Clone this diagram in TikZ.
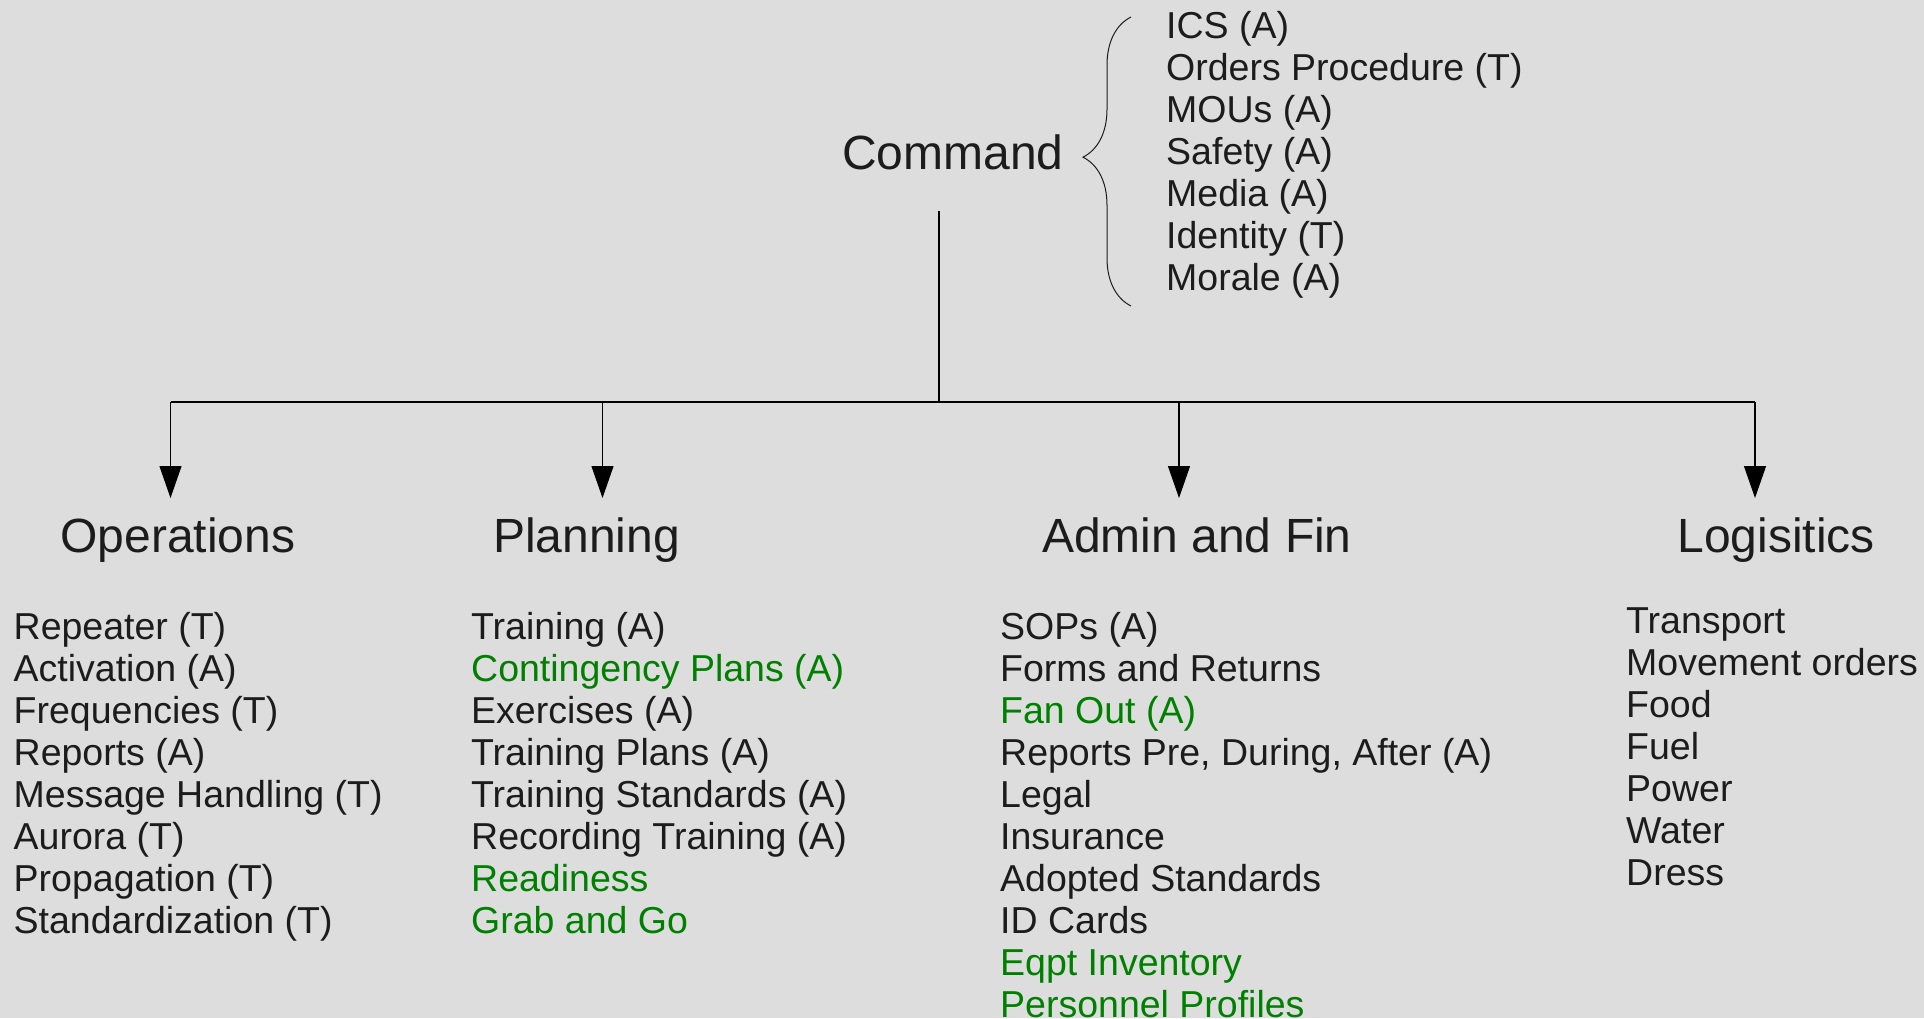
\documentclass[tikz,border=0pt]{standalone}
\usepackage{fontspec}
\setmainfont{Liberation Sans}
\usetikzlibrary{arrows.meta,decorations.pathreplacing}
\definecolor{bg}{HTML}{DDDDDD}
\definecolor{ink}{HTML}{1C1C1C}
\definecolor{grn}{HTML}{008000}
\newcommand\greenit{\color{grn}}
\begin{document}
\begin{tikzpicture}[x=1pt,y=-1pt,
  head/.style={anchor=base,inner sep=0pt,text=ink,font=\fontsize{48}{56}\selectfont},
  item/.style={anchor=base west,inner sep=0pt,text=ink,font=\fontsize{37.5}{42}\selectfont},
  wire/.style={draw=black,line width=1.1pt},
  arr/.style={wire,-{Triangle[length=32pt,width=22pt]}},
  bracestyle/.style={draw=ink,line width=1pt,decorate,decoration={brace,amplitude=48pt,aspect=0.515}}]
\fill[bg] (0,0) rectangle (1924,1018);
\useasboundingbox (0,0) rectangle (1924,1018);

% headings
\node[head] (cmd) at (953,169) {Command};
\node[head] (ops) at (178,552) {Operations};
\node[head] (pln) at (586.5,552) {Planning};
\node[head] (adm) at (1197,552) {Admin and Fin};
\node[head] (log) at (1776,552) {Logisitics};

% connector points
\coordinate (cfoot) at (939,211);
\coordinate (bus) at (939,402);
\coordinate (b1) at (170.5,402);
\coordinate (b2) at (602.5,402);
\coordinate (b3) at (1179,402);
\coordinate (b4) at (1755,402);
\coordinate (t1) at (170.5,498);
\coordinate (t2) at (602.5,498);
\coordinate (t3) at (1179,498);
\coordinate (t4) at (1755,498);

\draw[wire] (cfoot) -- (bus);
\draw[wire] (b1) -- (b4);
\draw[arr] (b1) -- (t1);
\draw[arr] (b2) -- (t2);
\draw[arr] (b3) -- (t3);
\draw[arr] (b4) -- (t4);

% brace
\coordinate (brb) at (1131,306);
\coordinate (brt) at (1131,17);
\draw[bracestyle] (brb) -- (brt);

% command list
\foreach \t [count=\i from 0] in {ICS (A), Orders Procedure (T), MOUs (A), Safety (A), Media (A), Identity (T), Morale (A)}
  \node[item] (c\i) at (1166,{38+42*\i}) {\t};

% operations list
\foreach \t [count=\i from 0] in {Repeater (T), Activation (A), Frequencies (T), Reports (A), Message Handling (T), Aurora (T), Propagation (T), Standardization (T)}
  \node[item] (o\i) at (13.5,{639+42*\i}) {\t};

% planning list
\foreach \t [count=\i from 0] in {Training (A), {\greenit Contingency Plans (A)}, Exercises (A), Training Plans (A), Training Standards (A), Recording Training (A), {\greenit Readiness}, {\greenit Grab and Go}}
  \node[item] (p\i) at (471,{639+42*\i}) {\t};

% admin list
\foreach \t [count=\i from 0] in {SOPs (A), Forms and Returns, {\greenit Fan Out (A)}, {Reports Pre, During, After (A)}, Legal, Insurance, Adopted Standards, ID Cards, {\greenit Eqpt Inventory}, {\greenit Personnel Profiles}}
  \node[item] (a\i) at (1000,{639+42*\i}) {\t};

% logistics list
\foreach \t [count=\i from 0] in {Transport, Movement orders, Food, Fuel, Power, Water, Dress}
  \node[item] (l\i) at (1626,{633+42*\i}) {\t};
\end{tikzpicture}
\end{document}
